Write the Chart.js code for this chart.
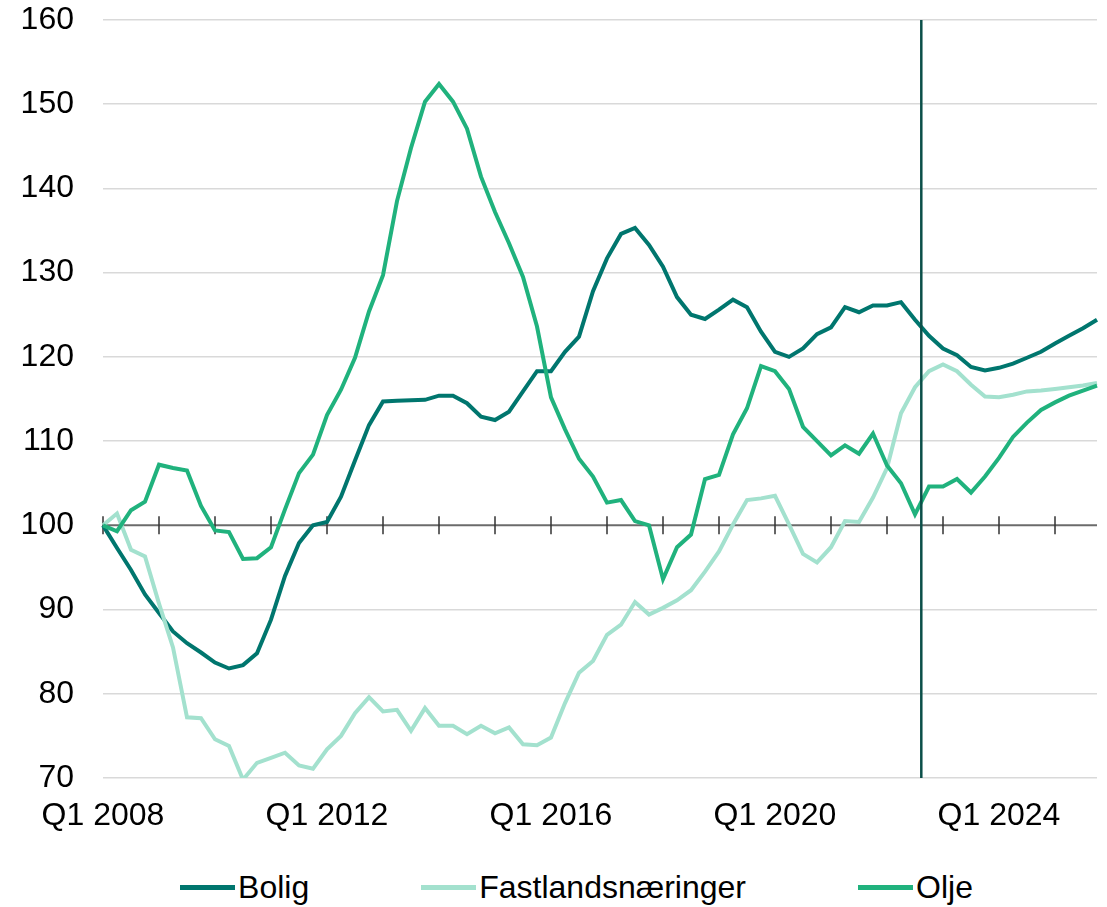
<!DOCTYPE html>
<html>
<head>
<meta charset="utf-8">
<script src="https://cdn.jsdelivr.net/npm/chart.js@4"></script>
<style>
  body { margin: 0; background: #fff; overflow: hidden; }
  #wrap { position: relative; width: 1107px; height: 850px; }
  #legend {
    position: absolute; top: 870px; left: 0; width: 1107px; height: 34px;
    display: flex; justify-content: center; align-items: center;
    padding-left: 46px; box-sizing: border-box;
    font-family: "Liberation Sans", Arial, sans-serif; font-size: 32px; color: #000;
  }
  .item { display: flex; align-items: center; margin: 0 56px; }
  .swatch { width: 55px; height: 5px; margin-right: 3px; }
</style>
</head>
<body>
<div id="wrap"><canvas id="chart"></canvas></div>
<div id="legend"></div>
<script>
// quarters Q1 2008 .. Q4 2025
const firstYear = 2008;
const lastYear = 2025;
const quarters = [];
for (let yr = firstYear; yr <= lastYear; yr++) {
  for (let q = 1; q <= 4; q++) quarters.push('Q' + q + ' ' + yr);
}

const bolig = [
  100, 97.3, 94.7, 91.8, 89.6, 87.4, 86.0, 84.9, 83.7, 83.0, 83.4, 84.8,
  88.8, 94.0, 97.9, 100.0, 100.4, 103.4, 107.7, 111.9, 114.7, 114.8, 114.85, 114.9,
  115.4, 115.4, 114.5, 112.9, 112.5, 113.5, 115.9, 118.3, 118.3, 120.6, 122.4, 127.8,
  131.7, 134.6, 135.3, 133.3, 130.7, 127.1, 125.0, 124.5, 125.6, 126.8, 125.9, 123.0,
  120.6, 120.0, 121.0, 122.7, 123.5, 125.9, 125.3, 126.1, 126.1, 126.5, 124.4, 122.5,
  121.0, 120.2, 118.8, 118.4, 118.7, 119.2, 119.9, 120.6, 121.6, 122.5, 123.4, 124.4
];

const fastland = [
  100, 101.4, 97.1, 96.3, 90.7, 85.5, 77.2, 77.1, 74.6, 73.8, 69.8, 71.8,
  72.4, 73.0, 71.5, 71.1, 73.4, 75.0, 77.7, 79.6, 77.9, 78.1, 75.6, 78.3,
  76.2, 76.2, 75.2, 76.2, 75.3, 76.0, 74.0, 73.9, 74.8, 78.9, 82.5, 83.9,
  87.0, 88.2, 90.9, 89.4, 90.2, 91.1, 92.3, 94.5, 96.9, 100.1, 103.0, 103.2,
  103.5, 100.1, 96.6, 95.6, 97.4, 100.5, 100.4, 103.3, 106.8, 113.3, 116.4, 118.3,
  119.1, 118.3, 116.7, 115.3, 115.2, 115.5, 115.9, 116.0, 116.2, 116.4, 116.6, 116.9
];

const olje = [
  100, 99.3, 101.8, 102.8, 107.2, 106.8, 106.5, 102.3, 99.4, 99.2, 96.0, 96.1,
  97.4, 101.9, 106.2, 108.4, 113.1, 116.1, 119.9, 125.4, 129.7, 138.5, 144.8, 150.3,
  152.4, 150.3, 147.1, 141.4, 137.2, 133.5, 129.5, 123.6, 115.2, 111.4, 107.9, 105.8,
  102.7, 103.0, 100.5, 100.0, 93.6, 97.4, 98.9, 105.5, 106.0, 110.8, 113.9, 118.9,
  118.3, 116.2, 111.7, 110.0, 108.3, 109.5, 108.5, 110.9, 107.1, 105.0, 101.3, 104.6,
  104.6, 105.5, 103.9, 105.8, 108.0, 110.5, 112.2, 113.7, 114.6, 115.4, 116.0, 116.6
];

const seriesNames = ['Bolig', 'Fastlandsnæringer', 'Olje'];
const yTicks = [70, 80, 90, 100, 110, 120, 130, 140, 150, 160];
const baseValue = 100;
const forecastStart = 58.45; // position of the vertical marker (quarter index)

const colors = ['#00766e', '#a3e1ce', '#20b27d'];
const FONT = '"Liberation Sans", Arial, sans-serif';

// baseline at 100 with yearly ticks, and the vertical forecast marker
const guides = {
  id: 'guides',
  beforeDatasetsDraw(chart) {
    const { ctx, chartArea, scales: { x, y } } = chart;
    const y0 = y.getPixelForValue(baseValue);
    ctx.save();
    ctx.strokeStyle = '#6b6b6b';
    ctx.lineWidth = 2;
    ctx.beginPath();
    ctx.moveTo(chartArea.left, y0);
    ctx.lineTo(chartArea.right, y0);
    ctx.stroke();
    ctx.strokeStyle = '#333';
    ctx.lineWidth = 1.5;
    ctx.beginPath();
    for (let i = 0; i < quarters.length; i += 4) {
      const px = x.getPixelForValue(i);
      ctx.moveTo(px, y0 - 9);
      ctx.lineTo(px, y0 + 9);
    }
    ctx.stroke();
    ctx.restore();
  },
  afterDatasetsDraw(chart) {
    const { ctx, chartArea, scales: { x } } = chart;
    const px = x.getPixelForValue(forecastStart);
    ctx.save();
    ctx.strokeStyle = '#0b4f49';
    ctx.lineWidth = 2.5;
    ctx.beginPath();
    ctx.moveTo(px, chartArea.top);
    ctx.lineTo(px, chartArea.bottom);
    ctx.stroke();
    ctx.restore();
  }
};

const chart = new Chart(document.getElementById('chart').getContext('2d'), {
  type: 'line',
  data: {
    labels: quarters,
    datasets: [
      { label: seriesNames[0], data: bolig, borderColor: colors[0], order: 3 },
      { label: seriesNames[1], data: fastland, borderColor: colors[1], order: 2 },
      { label: seriesNames[2], data: olje, borderColor: colors[2], order: 1 }
    ]
  },
  options: {
    responsive: true,
    maintainAspectRatio: false,
    animation: false,
    layout: { padding: { left: 0, right: 10, top: 0, bottom: 14 } },
    elements: {
      line: { borderWidth: 4, tension: 0, fill: false },
      point: { radius: 0, hoverRadius: 0 }
    },
    plugins: {
      legend: { display: false },
      tooltip: { enabled: false }
    },
    scales: {
      x: {
        grid: { display: false, drawTicks: false },
        border: { display: false },
        ticks: {
          autoSkip: false,
          maxRotation: 0,
          padding: 19,
          color: '#000',
          font: { family: FONT, size: 32 },
          callback: (val, idx) => (idx % 16 === 0 ? quarters[idx] : '')
        },
        afterFit: (axis) => {
          axis.height = 58;
          axis.paddingLeft = 0;
          axis.paddingRight = 0;
        }
      },
      y: {
        min: yTicks[0],
        max: yTicks[yTicks.length - 1],
        afterBuildTicks: (axis) => { axis.ticks = yTicks.map(v => ({ value: v })); },
        grid: {
          drawTicks: false,
          lineWidth: 1.5,
          color: (c) => (c.tick && c.tick.value === baseValue ? 'rgba(0,0,0,0)' : '#d9d9d9')
        },
        border: { display: false },
        ticks: {
          padding: 29,
          color: '#000',
          font: { family: FONT, size: 32 }
        },
        afterFit: (axis) => {
          axis.width = 103;
          axis.paddingTop = 20;
          axis.paddingBottom = 0;
        }
      }
    }
  },
  plugins: [guides]
});

// legend built from the datasets
const legendEl = document.getElementById('legend');
chart.data.datasets.forEach(ds => {
  const item = document.createElement('div');
  item.className = 'item';
  const sw = document.createElement('span');
  sw.className = 'swatch';
  sw.style.background = ds.borderColor;
  const txt = document.createElement('span');
  txt.textContent = ds.label;
  item.appendChild(sw);
  item.appendChild(txt);
  legendEl.appendChild(item);
});
</script>
</body>
</html>
